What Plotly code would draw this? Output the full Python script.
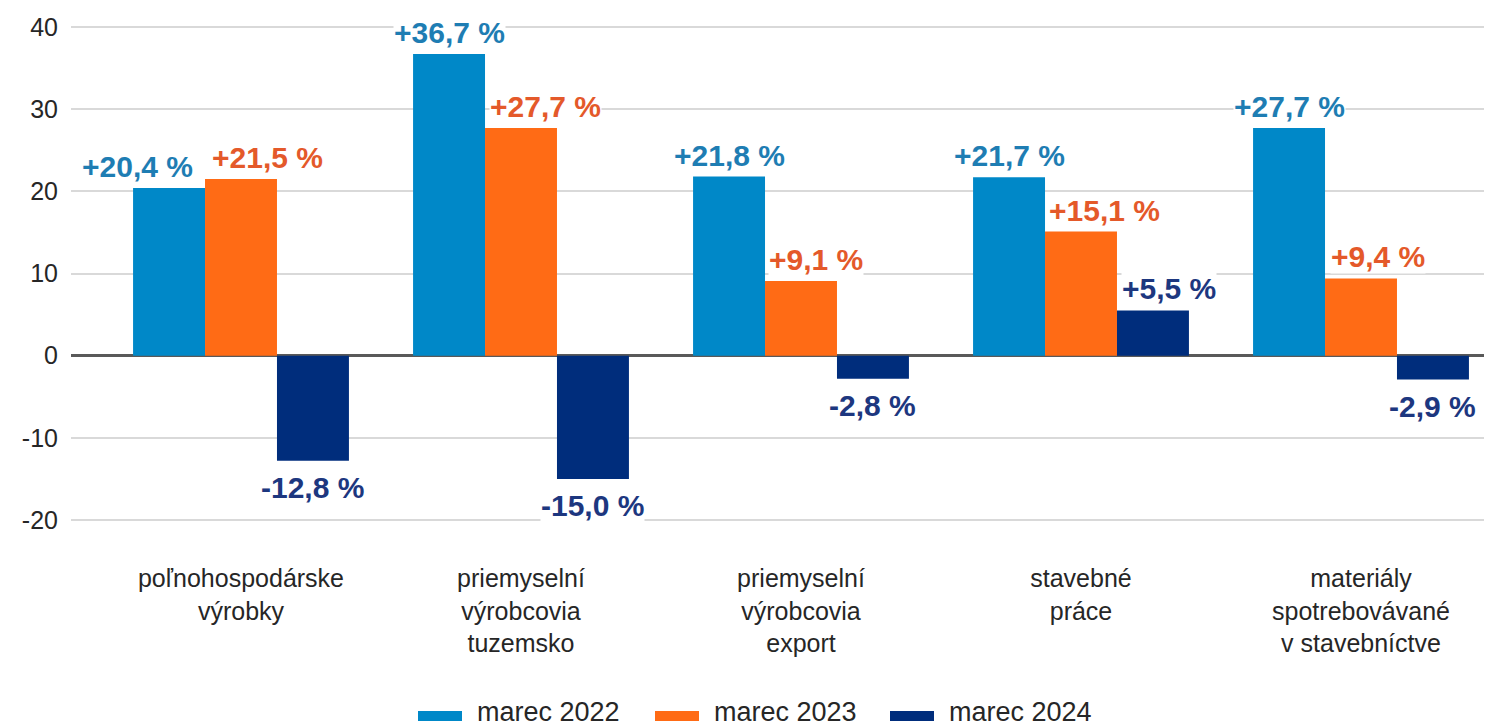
import plotly.graph_objects as go

# ---------------- data ----------------
categories = [
    "poľnohospodárske<br>výrobky",
    "priemyselní<br>výrobcovia<br>tuzemsko",
    "priemyselní<br>výrobcovia<br>export",
    "stavebné<br>práce",
    "materiály<br>spotrebovávané<br>v stavebníctve",
]
series_names = ["marec 2022", "marec 2023", "marec 2024"]
values_2022 = [20.4, 36.7, 21.8, 21.7, 27.7]
values_2023 = [21.5, 27.7, 9.1, 15.1, 9.4]
values_2024 = [-12.8, -15.0, -2.8, 5.5, -2.9]
y_ticks = [-20, -10, 0, 10, 20, 30, 40]

# ---------------- styles ----------------
bar_colors = ["#0088c8", "#ff6b15", "#002d7c"]
label_colors = ["#1e7db3", "#e4592a", "#1d377f"]
label_nudge_px = [[-32, 0, 0, 0, 0], [26, 24, 15, 23, 17], [0, 0, 0, 16, 0]]
FONT = "Liberation Sans, Arial, sans-serif"

series = [values_2022, values_2023, values_2024]
x = list(range(len(categories)))

BARGAP = 0.229
bar_w = (1 - BARGAP) / 3

# page body has an 8px margin; figure coordinates = screen - 8
W, H = 1484, 720
plot_left, plot_right, plot_top, plot_bottom = 63, 1484, 0, 532

fig = go.Figure()
for s, (name, vals) in enumerate(zip(series_names, series)):
    fig.add_trace(go.Bar(
        x=x, y=vals, name=name,
        marker=dict(color=bar_colors[s], line=dict(width=0)),
        showlegend=False,
    ))

def fmt(v):
    sign = "+" if v > 0 else "-"
    return f"{sign}{abs(v):.1f} %".replace(".", ",")

annotations = []
for s, vals in enumerate(series):
    off = (s - 1) * bar_w
    for i, v in enumerate(vals):
        annotations.append(dict(
            x=x[i] + off, y=v, xref="x", yref="y",
            text=f"<b>{fmt(v)}</b>", showarrow=False,
            font=dict(family=FONT, size=30, color=label_colors[s]),
            bgcolor="white", borderpad=0,
            yanchor="bottom" if v > 0 else "top",
            yshift=4 if v > 0 else -9,
            xshift=label_nudge_px[s][i],
        ))

def px_to_paper_x(px):
    return (px - plot_left) / (plot_right - plot_left)
def px_to_paper_y(py):
    return (plot_bottom - py) / (plot_bottom - plot_top)

# manual legend (wide bar symbols), figure pixel coords
legend_start = [410, 647, 882]
shapes = []
for s, name in enumerate(series_names):
    x0 = legend_start[s]
    shapes.append(dict(
        type="rect", xref="paper", yref="paper",
        x0=px_to_paper_x(x0), x1=px_to_paper_x(x0 + 44),
        y0=px_to_paper_y(713), y1=px_to_paper_y(703),
        fillcolor=bar_colors[s], line=dict(width=0),
    ))
    annotations.append(dict(
        x=px_to_paper_x(x0 + 58), y=px_to_paper_y(H),
        xref="paper", yref="paper", text=name, showarrow=False,
        xanchor="left", yanchor="bottom", borderpad=0,
        font=dict(family=FONT, size=27, color="#262626"),
    ))

c0 = 233   # centre of first category (figure px)
unit = 280  # px per category
fig.update_layout(
    width=W, height=H,
    margin=dict(l=plot_left, r=W - plot_right, t=plot_top, b=H - plot_bottom),
    paper_bgcolor="white", plot_bgcolor="white",
    barmode="group", bargap=BARGAP, bargroupgap=0,
    font=dict(family=FONT, color="#262626"),
    annotations=annotations, shapes=shapes,
    showlegend=False,
    xaxis=dict(
        range=[(plot_left - c0) / unit, (plot_right - c0) / unit],
        tickvals=x, ticktext=categories,
        tickfont=dict(family=FONT, size=25, color="#262626"),
        showgrid=False, zeroline=False, showline=False,
        ticks="", ticklabelstandoff=21,
    ),
    yaxis=dict(
        range=[-22.43, 42.31],
        tickvals=y_ticks, ticktext=[str(t) for t in y_ticks],
        tickfont=dict(family=FONT, size=25, color="#262626"),
        showgrid=True, gridcolor="#d9d9d9", gridwidth=1.5,
        zeroline=True, zerolinecolor="#595959", zerolinewidth=2.5,
        showline=False, ticks="", ticklabelstandoff=12,
    ),
)

fig.write_html("out.html")
